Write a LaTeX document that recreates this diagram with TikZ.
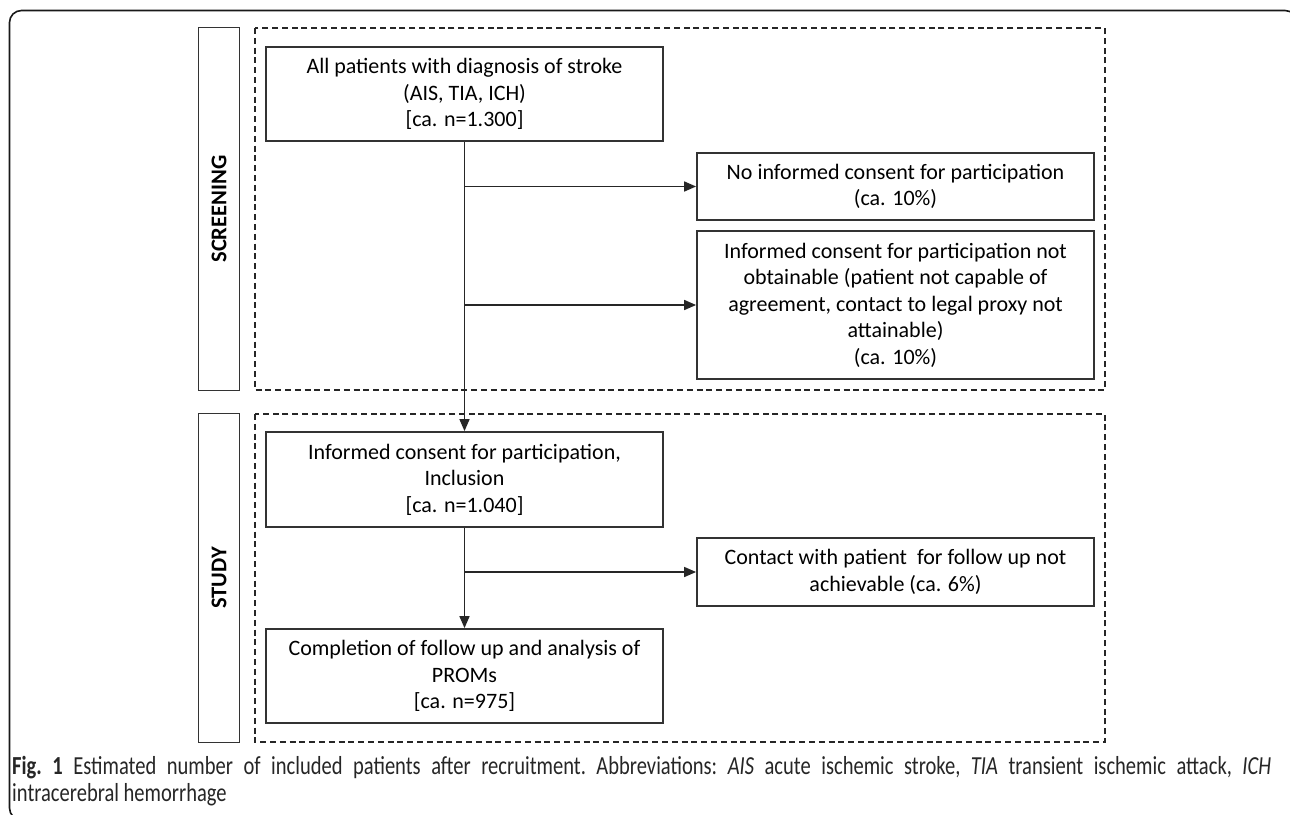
\documentclass[tikz,border=0pt]{standalone}
\usepackage{fontspec}
\setmainfont{Carlito}
\newfontfamily\capfont[FakeStretch=0.79]{Carlito}
\usetikzlibrary{arrows.meta}

\tikzset{
  stagebox/.style={draw=black!80, line width=1.8pt, align=center, inner sep=0pt,
    minimum width=397pt, font=\fontsize{22}{26.5}\selectfont},
  sidebox/.style={draw=black!80, line width=1.8pt, rotate=90, inner sep=0pt,
    minimum height=41pt, font=\fontsize{22.5}{27}\selectfont\bfseries},
  phaseframe/.style={draw=black!85, line width=2.2pt, dash pattern=on 6pt off 3.8pt},
  flow/.style={draw=black!85, line width=1.6pt, -{Triangle[length=12pt,width=10pt]}},
}

\begin{document}
\begin{tikzpicture}[x=1pt, y=-1pt]
\path[use as bounding box, clip] (0,0) rectangle (1290,814);
\fill[white] (0,0) rectangle (1290,814);
\draw[black!90, line width=1.6pt, rounded corners=12pt] (9.5,10.5) rectangle (1297,820);

\node[sidebox, minimum width=363pt] (screening) at (219,209) {SCREENING};
\node[sidebox, minimum width=329pt] (study) at (219,578) {STUDY};

\draw[phaseframe] (255,28) rectangle (1105,390);
\draw[phaseframe] (255,414) rectangle (1105,742);

\node[stagebox, minimum height=94pt] (all) at (464.5,94)
  {All patients with diagnosis of stroke\\(AIS, TIA, ICH)\\{[ca. n=1.300]}};
\node[stagebox, minimum height=67pt] (nocons) at (895.5,186.5)
  {No informed consent for participation\\(ca. 10\%)};
\node[stagebox, minimum height=148pt] (notobt) at (895.5,305)
  {Informed consent for participation not\\obtainable (patient not capable of\\agreement, contact to legal proxy not\\attainable)\\(ca. 10\%)};
\node[stagebox, minimum height=95pt] (incl) at (464.5,479.5)
  {Informed consent for participation,\\Inclusion\\{[ca. n=1.040]}};
\node[stagebox, minimum height=68pt] (lost) at (895.5,572)
  {Contact with patient\ \ for follow up not\\achievable (ca. 6\%)};
\node[stagebox, minimum height=94pt] (done) at (464.5,676)
  {Completion of follow up and analysis of\\PROMs\\{[ca. n=975]}};

\draw[flow] (all.south) -- (incl.north);
\draw[flow] (all.south |- nocons.west) -- (nocons.west);
\draw[flow] (all.south |- notobt.west) -- (notobt.west);
\draw[flow] (incl.south) -- (done.north);
\draw[flow] (incl.south |- lost.west) -- (lost.west);

\node[anchor=north west, inner sep=0pt, text width=1259pt, align=justify,
  text=black!85, font=\capfont\fontsize{26}{27}\selectfont\frenchspacing] (caption) at (12,756)
  {\textbf{Fig.\ 1} Estimated number of included patients after recruitment. Abbreviations: \textit{AIS} acute ischemic stroke, \textit{TIA} transient ischemic attack, \textit{ICH}\linebreak intracerebral hemorrhage};
\end{tikzpicture}
\end{document}
